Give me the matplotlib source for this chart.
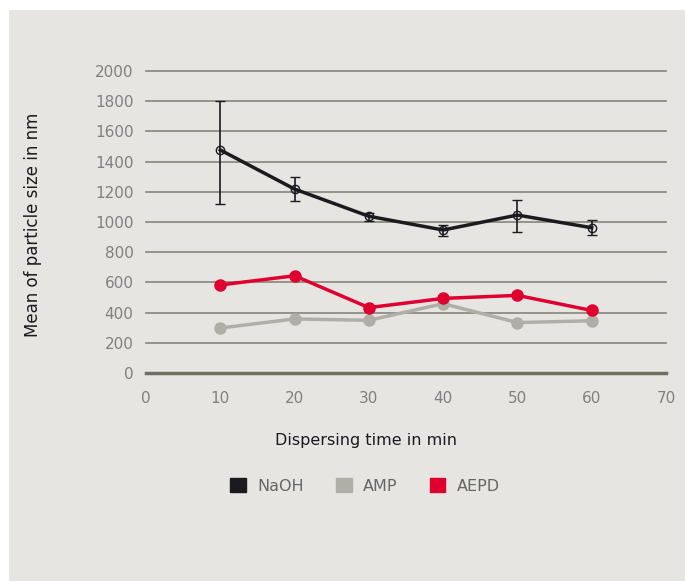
import matplotlib.pyplot as plt
from matplotlib.patches import Rectangle

# data
time_min = [10, 20, 30, 40, 50, 60]
naoh = [1477, 1218, 1038, 947, 1046, 962]
naoh_err_low = [358, 81, 31, 40, 112, 48]
naoh_err_high = [324, 78, 22, 33, 100, 51]
amp = [298, 358, 349, 459, 334, 346]
aepd = [583, 644, 433, 494, 514, 414]

bg = '#e6e5e1'
grid_col = '#85857a'
tick_col = '#808080'

fig = plt.figure(figsize=(6.85, 5.81), dpi=100, facecolor='white')
fig.patches.append(Rectangle((9 / 685, 0), 1, 1 - 10 / 581, transform=fig.transFigure,
                             facecolor=bg, edgecolor='none', zorder=-10))

ax = fig.add_axes([146 / 685, 1 - 373 / 581, 520 / 685, 302 / 581])
ax.set_facecolor(bg)
ax.patch.set_alpha(0)

ax.set_xlim(0, 70)
ax.set_ylim(0, 2000)
ax.set_xticks(range(0, 71, 10))
ax.set_yticks(range(0, 2001, 200))

for s in ax.spines.values():
    s.set_visible(False)
for v in range(200, 2001, 200):
    ax.axhline(v, color=grid_col, lw=1.2, zorder=1, clip_on=False)
ax.axhline(0, color='#6f6f62', lw=2.5, zorder=1, clip_on=False)
ax.tick_params(axis='both', length=0, labelsize=11, labelcolor=tick_col)
ax.tick_params(axis='y', pad=9)
ax.tick_params(axis='x', pad=13)

ax.plot(time_min, amp, color='#b0afa7', lw=2.5, marker='o', ms=8, zorder=3, label='AMP')
ax.plot(time_min, aepd, color='#e0002f', lw=2.5, marker='o', ms=8, zorder=4, label='AEPD')
ax.errorbar(time_min, naoh, yerr=[naoh_err_low, naoh_err_high], color='#1a1a1f', lw=2.5,
            marker='o', ms=6, mfc='none', mew=1, ecolor='#1a1a1f', elinewidth=1.2,
            capsize=3.5, capthick=1.2, zorder=5, label='NaOH', clip_on=False)

fig.text(366 / 685, 1 - 440 / 581, 'Dispersing time in min', fontsize=11.5,
         color='#1a1a1f', ha='center', va='center')
fig.text(33 / 685, 1 - 225 / 581, 'Mean of particle size in nm', fontsize=12,
         color='#1a1a1f', ha='center', va='center', rotation=90)

handles = [Rectangle((0, 0), 1, 1, color=c) for c in ['#1a1a1f', '#b0afa7', '#e0002f']]
fig.legend(handles, ['NaOH', 'AMP', 'AEPD'], loc='center', bbox_to_anchor=(365 / 685, 1 - 486 / 581),
           ncol=3, frameon=False, handlelength=1.0, handleheight=1.0, handletextpad=0.7,
           columnspacing=2.0, prop={'size': 11.5}, labelcolor='#666666')

fig.savefig('out.png', dpi=100, facecolor='white')
